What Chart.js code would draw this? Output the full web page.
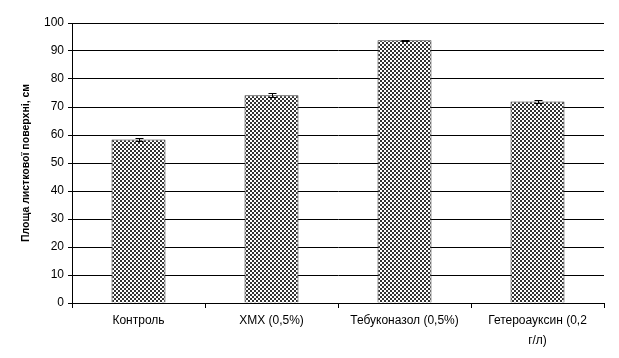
<!DOCTYPE html>
<html>
<head>
<meta charset="utf-8">
<script src="https://cdn.jsdelivr.net/npm/chart.js@4"></script>
<style>
html,body{margin:0;padding:0;background:#fff;}
#wrap{width:619px;height:358px;}
</style>
</head>
<body>
<div id="wrap"><canvas id="c" width="619" height="358"></canvas></div>
<script>
const categories = ["Контроль", "ХМХ (0,5%)", "Тебуконазол (0,5%)", ["Гетероауксин (0,2", "г/л)"]];
const values = [58.4, 74.2, 93.8, 72.0];
const errors = [0.4, 0.7, 0.3, 0.6];
const yTicks = [0, 10, 20, 30, 40, 50, 60, 70, 80, 90, 100];
const yTitle = "Площа листкової поверхні, см";

function makePattern() {
  const p = document.createElement('canvas');
  p.width = 4; p.height = 4;
  const g = p.getContext('2d');
  g.fillStyle = '#ffffff'; g.fillRect(0, 0, 4, 4);
  g.fillStyle = '#333333';
  g.fillRect(0, 0, 2, 2);
  g.fillRect(2, 2, 2, 2);
  return document.getElementById('c').getContext('2d').createPattern(p, 'repeat');
}

const errorBars = {
  id: 'errorBars',
  afterDatasetsDraw(chart) {
    const ctx = chart.ctx;
    const meta = chart.getDatasetMeta(0);
    const y = chart.scales.y;
    ctx.save();
    ctx.strokeStyle = '#000';
    ctx.lineWidth = 1;
    meta.data.forEach((bar, i) => {
      const x = Math.round(bar.x) + 0.5;
      const yt = Math.round(y.getPixelForValue(values[i] + errors[i])) + 0.5;
      const yb = Math.round(y.getPixelForValue(values[i] - errors[i])) + 0.5;
      ctx.beginPath();
      ctx.moveTo(x, yt); ctx.lineTo(x, yb);
      ctx.moveTo(x - 4, yt); ctx.lineTo(x + 4, yt);
      ctx.moveTo(x - 4, yb); ctx.lineTo(x + 4, yb);
      ctx.stroke();
    });
    ctx.restore();
  }
};

Chart.defaults.font.family = "'Liberation Sans', Arial, sans-serif";
Chart.defaults.color = '#000';

new Chart(document.getElementById('c'), {
  type: 'bar',
  data: {
    labels: categories,
    datasets: [{
      data: values,
      backgroundColor: makePattern(),
      borderColor: '#333333',
      borderWidth: 1,
      categoryPercentage: 1,
      barPercentage: 0.406
    }]
  },
  options: {
    responsive: false,
    animation: false,
    events: [],
    layout: { padding: { left: 0, right: 15, top: 23, bottom: 0 } },
    plugins: { legend: { display: false }, tooltip: { enabled: false } },
    scales: {
      x: {
        grid: { display: true, drawOnChartArea: false, offset: true, tickLength: 5, color: '#000' },
        border: { color: '#000', width: 1 },
        ticks: { font: { size: 12, lineHeight: 1.65 }, padding: 3, maxRotation: 0, autoSkip: false },
        afterFit(s) { s.height = 55; }
      },
      y: {
        min: 0, max: 100,
        afterBuildTicks(s) { s.ticks = yTicks.map(v => ({ value: v })); },
        grid: { color: '#000', tickLength: 4, lineWidth: 1 },
        border: { color: '#000', width: 1 },
        ticks: { font: { size: 12 }, padding: 4 },
        title: { display: true, text: yTitle, font: { size: 10.5, weight: 'bold' }, padding: { top: 20, bottom: 0 } },
        afterFit(s) { s.width = 72; }
      }
    }
  },
  plugins: [errorBars]
});
</script>
</body>
</html>
